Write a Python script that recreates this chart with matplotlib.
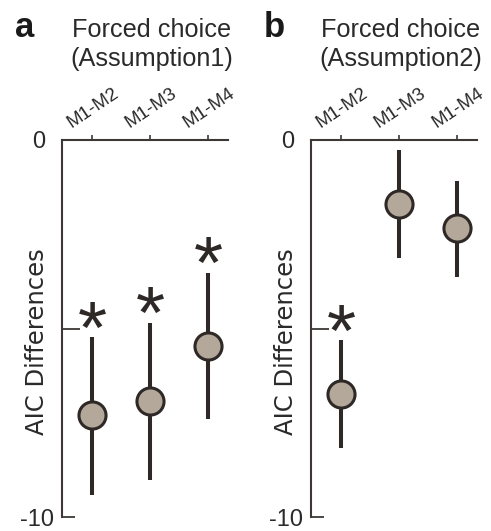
import matplotlib
matplotlib.use("Agg")
import matplotlib.pyplot as plt
from matplotlib import font_manager
import numpy as np

# ---------------- data ----------------
categories = ["M1-M2", "M1-M3", "M1-M4"]
panel_letters = ["a", "b"]
title_line1 = ["Forced choice", "Forced choice"]
title_line2 = ["(Assumption1)", "(Assumption2)"]
ylabel = "AIC Differences"

# panel a (Assumption1)
a_mean = [-7.29, -6.92, -5.46]
a_low = [-9.42, -9.02, -7.40]
a_high = [-5.23, -4.85, -3.53]
a_sig = [True, True, True]

# panel b (Assumption2)
b_mean = [-6.74, -1.70, -2.33]
b_low = [-8.17, -3.13, -3.63]
b_high = [-5.31, -0.27, -1.09]
b_sig = [True, False, False]

ytick_major = [0, -5]
ytick_major_labels = ["0", ""]
ytick_minor = [-10]
ytick_minor_labels = ["-10"]

# ---------------- style ----------------
W, H = 491, 531
DPI = 100
fill_col = "#b3a899"
dark = "#2e2926"
spine_col = "#3d3836"
reg = ["Liberation Sans", "DejaVu Sans"]

installed = {f.name for f in font_manager.fontManager.ttflist}
if "Liberation Sans Narrow" in installed:
    title_family, title_size = ["Liberation Sans Narrow"], 21
elif "DejaVu Sans Condensed" in installed:
    title_family, title_size = ["DejaVu Sans Condensed"], 19
else:
    title_family, title_size = reg, 18.2

fig = plt.figure(figsize=(W / DPI, H / DPI), dpi=DPI)

def px2fig(x, y):
    return x / W, 1 - y / H

panels = [
    dict(left=62, mean=a_mean, low=a_low, high=a_high, sig=a_sig),
    dict(left=311, mean=b_mean, low=b_low, high=b_high, sig=b_sig),
]
ax_w_px = 166
top_px, bot_px = 140, 517

xpos = np.arange(1, len(categories) + 1)

for i, p in enumerate(panels):
    l, b = px2fig(p["left"], bot_px)
    ax = fig.add_axes([l, b, ax_w_px / W, (bot_px - top_px) / H])
    ax.set_xlim(1 - 30 / 58, 1 + (ax_w_px - 30) / 58)
    ax.set_ylim(-10, 0)

    mean = np.array(p["mean"])
    low = np.array(p["low"])
    high = np.array(p["high"])
    ax.errorbar(xpos, mean, yerr=[mean - low, high - mean], fmt="o",
                color=dark, ecolor=dark, elinewidth=2.9, capsize=0,
                markersize=19.5, markerfacecolor=fill_col,
                markeredgecolor=dark, markeredgewidth=2.2, zorder=3,
                clip_on=False)

    for xv, hv, s in zip(xpos, high, p["sig"]):
        if s:
            ax.annotate("*", xy=(xv, hv), xycoords="data",
                        xytext=(0, -11), textcoords="offset points",
                        ha="center", va="baseline", fontsize=54,
                        family=reg, color=dark)

    # spines
    for side in ["right", "bottom"]:
        ax.spines[side].set_visible(False)
    for side in ["left", "top"]:
        ax.spines[side].set_color(spine_col)
        ax.spines[side].set_linewidth(1.5)

    # x ticks on top, labels drawn rotated
    ax.xaxis.tick_top()
    ax.set_xticks(xpos)
    ax.set_xticklabels([])
    ax.tick_params(axis="x", direction="out", length=3.5, width=1.2,
                   color=spine_col)
    for xv, lab in zip(xpos, categories):
        ax.annotate(lab, xy=(xv, 1), xycoords=("data", "axes fraction"),
                    xytext=(-15, 9.0), textcoords="offset points",
                    rotation=34, rotation_mode="anchor", ha="left",
                    va="baseline", fontsize=13.5, family=reg, color="#2a2a2a")

    # y ticks
    ax.set_yticks(ytick_major)
    ax.set_yticklabels(ytick_major_labels, fontsize=17, family=reg,
                       color="#2a2a2a")
    ax.set_yticks(ytick_minor, minor=True)
    ax.set_yticklabels(ytick_minor_labels, minor=True, fontsize=17,
                       family=reg, color="#2a2a2a")
    ax.tick_params(axis="y", which="major", direction="in", length=13,
                   width=1.3, color=spine_col, pad=12)
    ax.tick_params(axis="y", which="minor", direction="in", length=9,
                   width=1.3, color=spine_col, pad=6)

    # y label
    fx, fy = px2fig(p["left"] - 25, 342)
    fig.text(fx, fy, ylabel, rotation=90, ha="center", va="center",
             fontsize=17.5, family=["DejaVu Sans"], color="#2a2a2a")

    # titles
    cx = p["left"] + 90
    fx, fy = px2fig(cx, 37)
    fig.text(fx, fy, title_line1[i], ha="center", va="baseline",
             fontsize=title_size, family=title_family, color="#2a2a2a")
    fx, fy = px2fig(cx, 66)
    fig.text(fx, fy, title_line2[i], ha="center", va="baseline",
             fontsize=title_size, family=title_family, color="#2a2a2a")
    fx, fy = px2fig(p["left"] - 47, 37)
    fig.text(fx, fy, panel_letters[i], ha="left", va="baseline",
             fontsize=25, fontweight="bold", family=reg, color="#1a1a1a")

fig.savefig("out.png", dpi=DPI)
